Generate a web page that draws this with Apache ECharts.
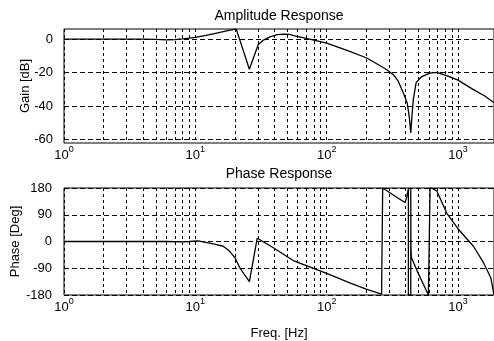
<!DOCTYPE html>
<html>
<head>
<meta charset="utf-8">
<script src="https://cdn.jsdelivr.net/npm/echarts@6/dist/echarts.min.js"></script>
<style>
  html, body { margin: 0; padding: 0; background: #fff; }
  #chart { width: 494px; height: 341px; }
</style>
</head>
<body>
<div id="chart"></div>
<script>
// frequency points (Hz) and gain (dB) for the amplitude response
var gainFreq = [1, 2, 3, 4, 5, 6, 7, 8, 9, 10, 12, 14, 16, 18, 20.5, 25.8, 30.1, 33, 37, 42, 47, 52, 59, 70,
                100, 150, 202, 250, 287, 322, 350, 383, 410, 425, 437, 447, 457, 480, 525, 610, 690, 820,
                1000, 1300, 1600, 1880];
var gainDb = [0, 0, 0, 0, -0.2, -0.5, -0.3, 0.1, 0.6, 1.0, 2.2, 3.3, 4.3, 5.2, 5.9, -18, -3.4, -0.6, 1.3, 2.6, 3.0, 2.8, 1.6, 0.4,
              -2.4, -7.4, -11.3, -15.5, -18.3, -21.3, -25, -32, -38, -46, -56, -45, -36, -26, -22.6, -20.3, -19.9, -21.8,
              -24.5, -30, -34, -38];

// phase response (deg), includes the +-180 wraps
var phaseFreq = [1, 6, 8, 9, 10.5, 12, 14, 16.3, 18, 20, 21.9, 25.8, 29.6, 30.6, 39, 55.6, 100, 150, 200, 262, 267,
                 267, 330, 395, 407, 419, 419, 437, 437, 438, 441, 500, 560, 595, 613, 613, 642, 690, 822, 1000,
                 1310, 1560, 1780, 1880];
var phaseDeg = [0, 0, -1, 0, 2, -3, -9, -16, -30, -54, -90, -135, 11, 13, -20, -64, -107, -139, -160, -177, -180,
                180, 153, 131, 150, 178, -180, -180, 180, -10, -53, -109, -155, -180, -180,
                180, 178, 170, 95, 43, -16, -70, -123, -180];

var xMajor = [1, 10, 100, 1000];
var xMinor = [1, 2, 3, 4, 5, 6, 7, 8, 9, 10, 20, 30, 40, 50, 60, 70, 80, 90, 100,
              200, 300, 400, 500, 600, 700, 800, 900, 1000];
var gainTicks = [-60, -40, -20, 0];

var FONT = 'Liberation Sans';
var myChart = echarts.init(document.getElementById('chart'));

function xAxisOf(idx, withName) {
  return {
    type: 'log', gridIndex: idx, logBase: 10, min: 1, max: 1880,
    axisLine: { show: false },
    axisTick: { show: false, customValues: xMinor },
    splitLine: { show: true, lineStyle: { color: '#000', width: 1, type: [3, 3] } },
    axisLabel: {
      customValues: xMajor, margin: 6, color: '#000',
      formatter: function (v) { return '{a|10}{s|' + Math.round(Math.log10(v)) + '}'; },
      rich: {
        a: { fontFamily: FONT, fontSize: 13, color: '#000', verticalAlign: 'bottom', lineHeight: 13 },
        s: { fontFamily: FONT, fontSize: 9, color: '#000', verticalAlign: 'bottom', lineHeight: 9, padding: [0, 0, 8, 0] }
      }
    },
    name: withName ? 'Freq. [Hz]' : '',
    nameLocation: 'middle', nameGap: 32, nameMoveOverlap: false,
    nameTextStyle: { fontFamily: FONT, fontSize: 13, color: '#000' }
  };
}

var option = {
  animation: false,
  backgroundColor: '#fff',
  title: [{
    text: 'Amplitude Response', left: 279, top: 9, textAlign: 'center', padding: 0,
    textStyle: { fontFamily: FONT, fontSize: 14, fontWeight: 'normal', color: '#000' }
  }, {
    text: 'Phase Response', left: 279, top: 167, textAlign: 'center', padding: 0,
    textStyle: { fontFamily: FONT, fontSize: 14, fontWeight: 'normal', color: '#000' }
  }],
  grid: [
    { left: 64, top: 29, right: 0, height: 114, show: true, borderColor: '#000', borderWidth: 1, backgroundColor: 'transparent' },
    { left: 64, top: 188, right: 0, height: 113, show: true, borderColor: '#000', borderWidth: 1, backgroundColor: 'transparent' }
  ],
  xAxis: [xAxisOf(0, false), xAxisOf(1, true)],
  yAxis: [{
    type: 'value', gridIndex: 0, min: -62, max: 6,
    axisLine: { show: false },
    axisTick: { show: false, customValues: gainTicks },
    splitLine: { show: true, lineStyle: { color: '#000', width: 1, type: [5, 3] } },
    axisLabel: { customValues: gainTicks, margin: 11, color: '#000', fontFamily: FONT, fontSize: 13 },
    name: 'Gain [dB]', nameLocation: 'middle', nameGap: 32, nameRotate: 90, nameMoveOverlap: false,
    nameTextStyle: { fontFamily: FONT, fontSize: 13, color: '#000' }
  }, {
    type: 'value', gridIndex: 1, min: -180, max: 180, interval: 90,
    axisLine: { show: false },
    axisTick: { show: false },
    splitLine: { show: true, lineStyle: { color: '#000', width: 1, type: [5, 3] } },
    axisLabel: { margin: 12, color: '#000', fontFamily: FONT, fontSize: 13 },
    name: 'Phase [Deg]', nameLocation: 'middle', nameGap: 42, nameRotate: 90, nameMoveOverlap: false,
    nameTextStyle: { fontFamily: FONT, fontSize: 13, color: '#000' }
  }],
  series: [{
    name: 'Gain', type: 'line', xAxisIndex: 0, yAxisIndex: 0,
    showSymbol: false, symbol: 'none',
    lineStyle: { color: '#000', width: 1.3 },
    data: gainFreq.map(function (f, i) { return [f, gainDb[i]]; })
  }, {
    name: 'Phase', type: 'line', xAxisIndex: 1, yAxisIndex: 1,
    showSymbol: false, symbol: 'none',
    lineStyle: { color: '#000', width: 1.3 },
    data: phaseFreq.map(function (f, i) { return [f, phaseDeg[i]]; })
  }]
};

myChart.setOption(option);
</script>
</body>
</html>
